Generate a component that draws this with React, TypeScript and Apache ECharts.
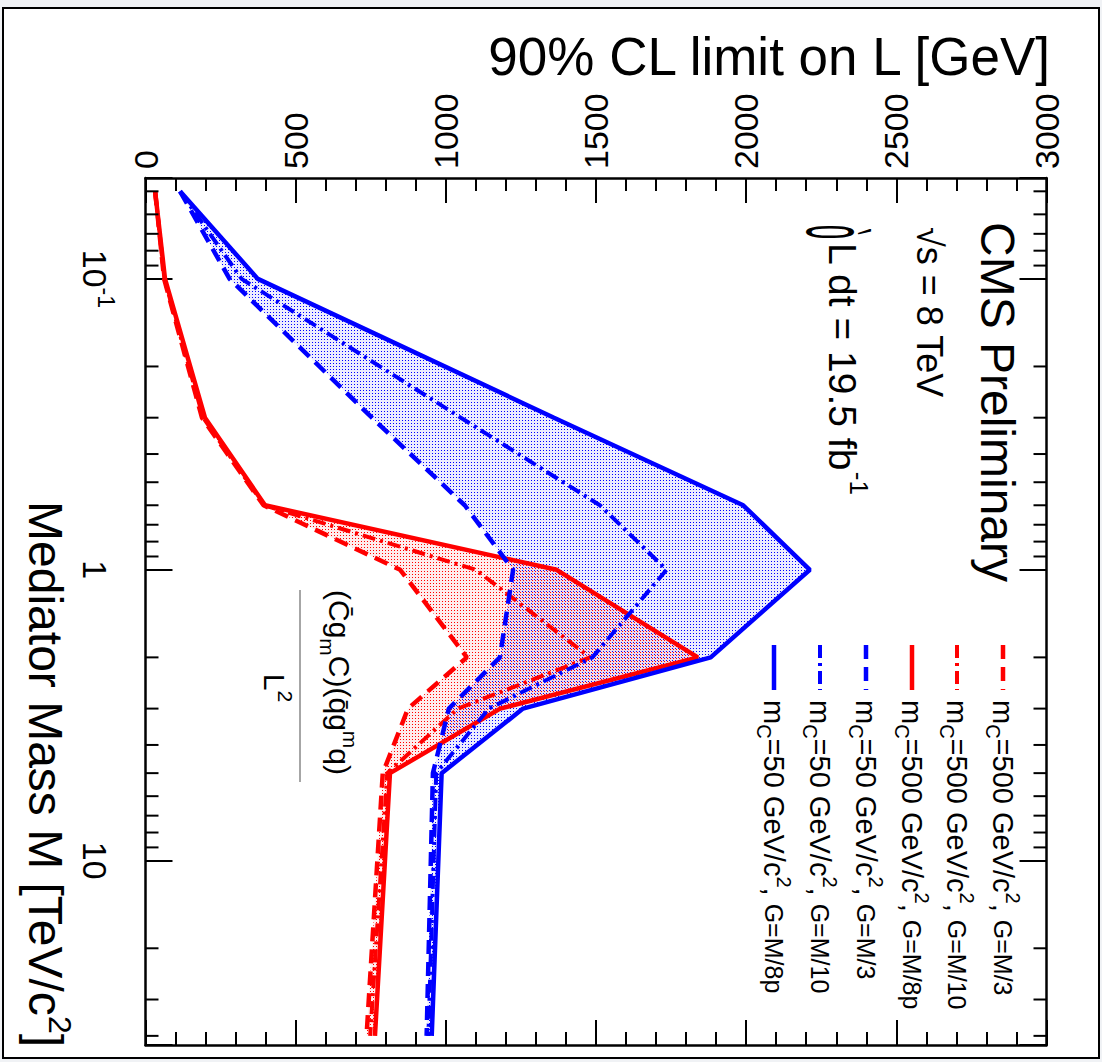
import React, { useEffect, useRef } from "react";
import * as echarts from "echarts";

const FONT = '"Liberation Sans", Arial, Helvetica, sans-serif';
const RED = "#ff0000";
const BLUE = "#0000ff";

// Mediator mass M [TeV/c^2] of the scan points
const massPoints = [0.05, 0.1, 0.3, 0.6, 1, 2, 3, 5, 40];
// 90% CL limits on Lambda [GeV]
const red_M3 = [32, 62, 188, 393, 848, 1070, 874, 790, 736];
const red_M10 = [32, 63, 192, 395, 1100, 1480, 1040, 805, 748];
const red_M8pi = [32, 65, 198, 398, 1369, 1839, 1181, 814, 764];
const blue_M3 = [115, 280, 754, 1063, 1224, 1180, 1010, 957, 936];
const blue_M10 = [115, 320, 1050, 1513, 1735, 1488, 1143, 968, 942];
const blue_M8pi = [115, 374, 1360, 1990, 2212, 1882, 1257, 986, 953];

const lambdaMin = 0;
const lambdaMax = 3000;
const lambdaStep = 500;
const massMin = 0.045;
const massMax = 43;
const minorMassTicks = [0.05, 0.06, 0.07, 0.08, 0.09, 0.2, 0.3, 0.4, 0.5, 0.6, 0.7, 0.8, 0.9, 2, 3, 4, 5, 6, 7, 8, 9, 20, 30, 40];
const decadeLabels: Record<string, string> = { "-1": "{b|10}{s|-1}", "0": "{b|1}", "1": "{b|10}" };

const legendMass = ["500", "500", "500", "50", "50", "50"];
const legendWidth = ["M/3", "M/10", "M/8p", "M/3", "M/10", "M/8p"];

const DASHED = [14, 8];
const DASHDOT = [13, 5, 3, 5];
const curves = [
  { values: red_M3, color: RED, dash: DASHED as any, width: 4.5 },
  { values: red_M10, color: RED, dash: DASHDOT as any, width: 4 },
  { values: red_M8pi, color: RED, dash: "solid" as any, width: 4.5 },
  { values: blue_M3, color: BLUE, dash: DASHED as any, width: 4.5 },
  { values: blue_M10, color: BLUE, dash: DASHDOT as any, width: 4 },
  { values: blue_M8pi, color: BLUE, dash: "solid" as any, width: 4.5 },
];
const legendX = [1003, 957, 912, 866, 820, 774];

function dotPattern(dot: string, tint: string, off: number) {
  const c = document.createElement("canvas");
  c.width = 3;
  c.height = 3;
  const g = c.getContext("2d")!;
  g.fillStyle = tint;
  g.fillRect(0, 0, 3, 3);
  g.fillStyle = dot;
  g.fillRect(off, off, 1, 1);
  return { image: c, repeat: "repeat", imageWidth: 3, imageHeight: 3 } as any;
}

function rotText(x: number, y: number, text: string, fontSize: number, align: string, rich?: any, extra?: any) {
  return {
    type: "text",
    x,
    y,
    rotation: -Math.PI / 2,
    z: 50,
    ...(extra || {}),
    style: {
      text,
      fontSize,
      fontFamily: FONT,
      fill: "#000",
      align,
      verticalAlign: "middle",
      textAlign: align,
      textVerticalAlign: "middle",
      rich,
    },
  };
}

export default function App() {
  const ref = useRef<HTMLDivElement>(null);
  useEffect(() => {
    if (!ref.current) return;
    const chart = echarts.init(ref.current, undefined, { renderer: "svg" });

    const band = (outer: number[], inner: number[], fill: any) => ({
      type: "custom",
      xAxisIndex: 0,
      yAxisIndex: 0,
      silent: true,
      z: 1,
      data: [[outer[0], massPoints[0]]],
      renderItem: (_p: any, api: any) => {
        const up = outer.map((v, i) => api.coord([v, massPoints[i]]));
        const lo = inner.map((v, i) => api.coord([v, massPoints[i]])).reverse();
        return { type: "polygon", shape: { points: [...up, ...lo] }, style: { fill, stroke: "none" } };
      },
    });

    const lineSeries = curves.map((c) => ({
      type: "line",
      xAxisIndex: 0,
      yAxisIndex: 0,
      symbol: "none",
      silent: true,
      z: 3,
      data: c.values.map((v, i) => [v, massPoints[i]]),
      lineStyle: { color: c.color, width: c.width, type: c.dash, cap: "butt" },
    }));

    const minorTicks = {
      type: "custom",
      xAxisIndex: 0,
      yAxisIndex: 0,
      silent: true,
      z: 6,
      data: minorMassTicks.map((m) => [0, m]),
      renderItem: (params: any, api: any) => {
        const y = api.coord([0, api.value(1)])[1];
        const cs = params.coordSys;
        const st = { stroke: "#000", lineWidth: 2 };
        return {
          type: "group",
          children: [
            { type: "line", shape: { x1: cs.x, y1: y, x2: cs.x + 13, y2: y }, style: st },
            { type: "line", shape: { x1: cs.x + cs.width - 13, y1: y, x2: cs.x + cs.width, y2: y }, style: st },
          ],
        };
      },
    };

    const xAxisBase = {
      type: "value",
      min: lambdaMin,
      max: lambdaMax,
      interval: lambdaStep,
      axisLine: { show: true, onZero: false, lineStyle: { color: "#000", width: 2.5 } },
      axisTick: { show: true, inside: true, length: 25, lineStyle: { color: "#000", width: 2 } },
      minorTick: { show: true, splitNumber: 5, length: 13, lineStyle: { color: "#000", width: 2 } },
      splitLine: { show: false },
    };
    const yAxisBase = {
      type: "log",
      logBase: 10,
      inverse: true,
      min: massMin,
      max: massMax,
      axisLine: { show: true, onZero: false, lineStyle: { color: "#000", width: 2.5 } },
      axisTick: { show: true, inside: true, length: 27, lineStyle: { color: "#000", width: 2 } },
      minorTick: { show: false },
      splitLine: { show: false },
    };

    const legendGraphics: any[] = [];
    curves.forEach((c, i) => {
      const x = legendX[i];
      legendGraphics.push({
        type: "line",
        z: 50,
        shape: { x1: x, y1: 645, x2: x, y2: 690 },
        style: { stroke: c.color, lineWidth: c.width, lineDash: Array.isArray(c.dash) ? c.dash : null },
      });
      legendGraphics.push(
        rotText(x, 700, `{a|m}{sb|C}{a|=${legendMass[i]} GeV/c}{sp|2}{a|, }{g|G=${legendWidth[i]}}`, 29, "left", {
          a: { fontSize: 29, fontFamily: FONT, lineHeight: 40, fill: "#000" },
          g: { fontSize: 25, fontFamily: FONT, lineHeight: 40, fill: "#000" },
          sb: { fontSize: 20, fontFamily: FONT, lineHeight: 20, verticalAlign: "bottom", fill: "#000" },
          sp: { fontSize: 20, fontFamily: FONT, lineHeight: 20, verticalAlign: "top", fill: "#000" },
        })
      );
    });

    const option: any = {
      animation: false,
      backgroundColor: "#f0f2f5",
      grid: { left: 145.5, right: 55.5, top: 178, bottom: 17, containLabel: false },
      xAxis: [
        {
          ...xAxisBase,
          position: "top",
          axisLabel: {
            show: true,
            rotate: -90,
            margin: 9,
            fontSize: 34,
            fontFamily: FONT,
            color: "#000",
            formatter: (v: number) => String(v),
          },
        },
        { ...xAxisBase, position: "bottom", axisLabel: { show: false } },
      ],
      yAxis: [
        {
          ...yAxisBase,
          position: "left",
          axisLabel: {
            show: true,
            rotate: -90,
            margin: 28,
            color: "#000",
            formatter: (v: number) => {
              const l = Math.log10(v);
              const e = Math.round(l);
              if (Math.abs(l - e) > 1e-6) return "";
              return decadeLabels[String(e)] || "";
            },
            rich: {
              b: { fontSize: 34, fontFamily: FONT, color: "#000", lineHeight: 46 },
              s: { fontSize: 23, fontFamily: FONT, color: "#000", lineHeight: 23, verticalAlign: "top" },
            },
          },
        },
        { ...yAxisBase, position: "right", axisLabel: { show: false } },
      ],
      graphic: [
        {
          type: "rect",
          z: -10,
          shape: { x: 3, y: 8, width: 1096, height: 1050 },
          style: { fill: "#ffffff", stroke: "#000", lineWidth: 2 },
        },
        {
          type: "text",
          x: 1050,
          y: 56,
          z: 50,
          style: {
            text: "90% CL limit on L [GeV]",
            fontSize: 53,
            fontFamily: FONT,
            fill: "#000",
            align: "right",
            verticalAlign: "middle",
            textAlign: "right",
            textVerticalAlign: "middle",
          },
        },
        rotText(45, 1047, "{a|Mediator Mass M [TeV/c}{sp|2}{a|]}", 48, "right", {
          a: { fontSize: 48, fontFamily: FONT, lineHeight: 62, fill: "#000" },
          sp: { fontSize: 32, fontFamily: FONT, lineHeight: 32, verticalAlign: "top", fill: "#000" },
        }),
        rotText(997, 222, "CMS Preliminary", 48, "left"),
        rotText(929, 227, "√s = 8 TeV", 36, "left"),
        rotText(838, 232, "ò", 72, "center", undefined, { scaleX: 0.35, scaleY: 1.2 }),
        rotText(842, 243, "{a|L dt = 19.5 fb}{sp|-1}", 39, "left", {
          a: { fontSize: 39, fontFamily: FONT, lineHeight: 60, fill: "#000" },
          sp: { fontSize: 26, fontFamily: FONT, lineHeight: 26, verticalAlign: "top", fill: "#000" },
        }),
        rotText(339, 590, "{a|(C\u0304g}{sb|m}{a|C)(q\u0304g}{sp|m}{a|q)}", 30, "left", {
          a: { fontSize: 30, fontFamily: FONT, lineHeight: 44, fill: "#000" },
          sb: { fontSize: 21, fontFamily: FONT, lineHeight: 21, verticalAlign: "bottom", fill: "#000" },
          sp: { fontSize: 21, fontFamily: FONT, lineHeight: 21, verticalAlign: "top", fill: "#000" },
        }),
        {
          type: "line",
          z: 50,
          shape: { x1: 300, y1: 590, x2: 300, y2: 782 },
          style: { stroke: "#888", lineWidth: 1.5 },
        },
        rotText(274, 688, "{a|L}{sp|2}", 30, "center", {
          a: { fontSize: 30, fontFamily: FONT, lineHeight: 44, fill: "#000" },
          sp: { fontSize: 21, fontFamily: FONT, lineHeight: 21, verticalAlign: "top", fill: "#000" },
        }),
        ...legendGraphics,
      ],
      series: [
        band(blue_M8pi, blue_M3, dotPattern("rgb(0,0,255)", "rgba(0,0,255,0.07)", 0)),
        band(red_M8pi, red_M3, dotPattern("rgb(255,0,0)", "rgba(255,0,0,0.07)", 1)),
        ...lineSeries,
        minorTicks,
      ],
    };
    chart.setOption(option);
    return () => chart.dispose();
  }, []);
  return <div ref={ref} style={{ position: "absolute", left: 0, top: 0, width: 1102, height: 1062 }} />;
}
